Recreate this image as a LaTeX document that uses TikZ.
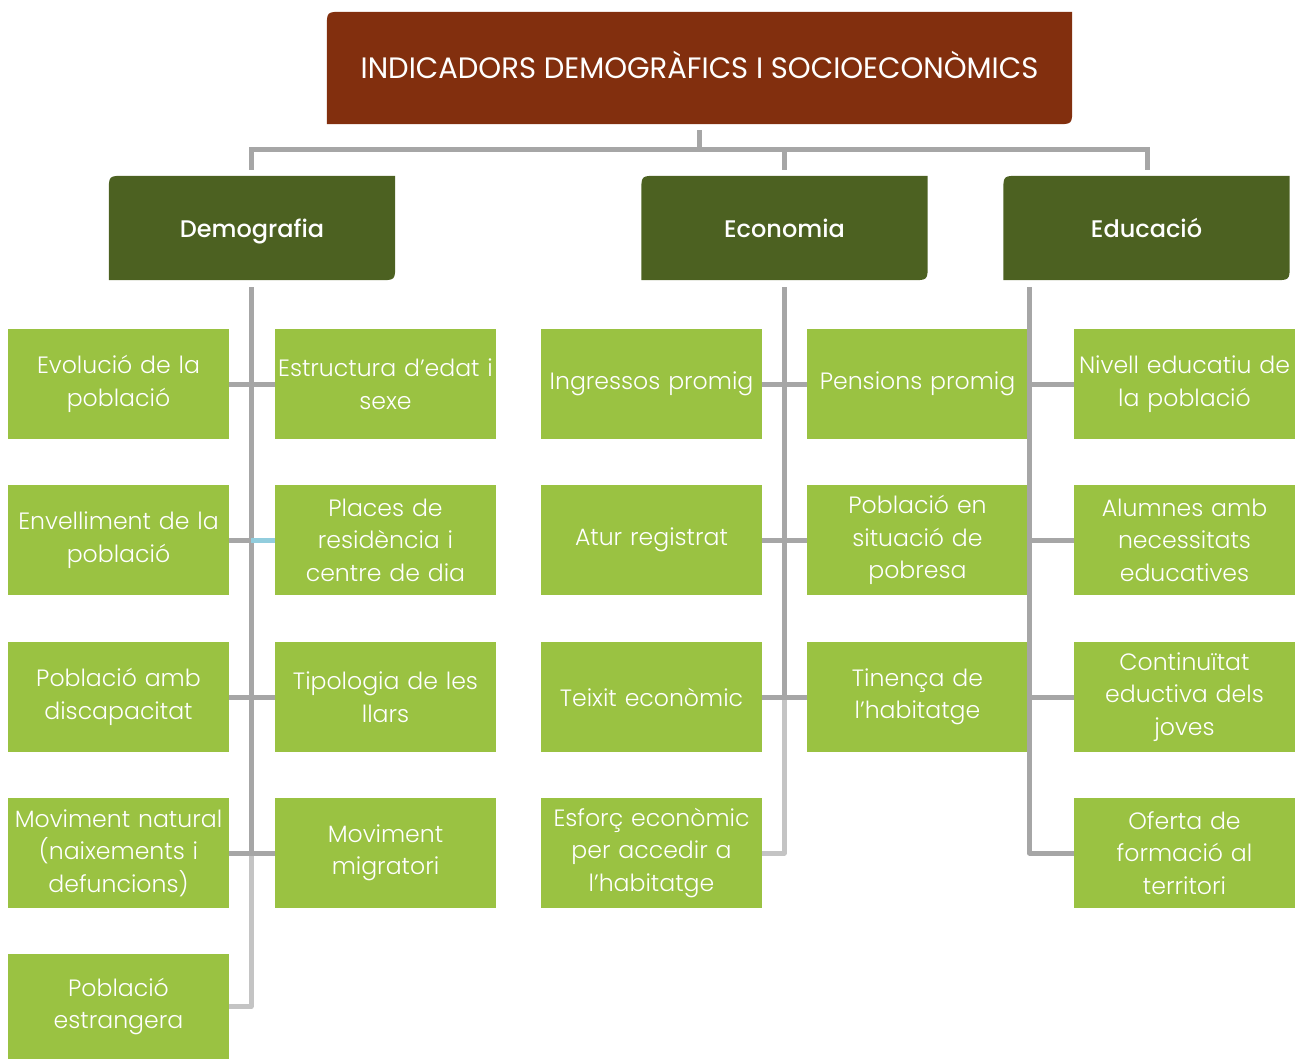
\documentclass[tikz,border=0pt]{standalone}
\usepackage{fontspec}
\setmainfont{Poppins}
\newfontfamily\poplight{Poppins Light}
\newfontfamily\popmed{Poppins Medium}
\usetikzlibrary{backgrounds,calc}
\definecolor{titlebg}{RGB}{130,47,14}
\definecolor{headbg}{RGB}{76,97,33}
\definecolor{leafbg}{RGB}{154,194,66}
\definecolor{conngray}{RGB}{166,166,166}
\definecolor{connlight}{RGB}{196,196,196}
\definecolor{connblue}{RGB}{146,205,221}
\tikzset{
  leaf/.style={fill=leafbg, text=white, minimum width=221pt, minimum height=110pt,
    inner sep=0pt, align=center, text width=221pt,
    font=\poplight\fontsize{23.6}{32.5}\selectfont},
  head/.style={text=white, minimum width=286pt, minimum height=104pt, inner sep=0pt,
    text height=20pt, text depth=2pt,
    font=\popmed\fontsize{24}{28}\selectfont},
  titlebox/.style={text=white, minimum width=745pt, minimum height=112pt, inner sep=0pt,
    text height=25pt, text depth=3pt,
    font=\fontsize{29.5}{32}\selectfont},
  conn/.style={draw=conngray, line width=5pt},
  connl/.style={draw=connlight, line width=5pt},
}
% box with rounded top-left and bottom-right corners
\newcommand{\leafshape}[3]{%
  \fill[#3] let \p1=(#1.south west), \p2=(#1.north east) in
    (\x1,\y1) -- (\x1,\y2-#2) .. controls (\x1,\y2) .. (\x1+#2,\y2)
    -- (\x2,\y2) -- (\x2,\y1+#2) .. controls (\x2,\y1) .. (\x2-#2,\y1) -- cycle;}
\begin{document}
\begin{tikzpicture}[x=1pt,y=-1pt]
\useasboundingbox (0,0) rectangle (1300,1059);
% title and headers
\node[titlebox] (T) at (699.5,68) {\scalebox{0.985}[1]{INDICADORS DEMOGRÀFICS I SOCIOECONÒMICS}};
\node[head] (Dem) at (252,228) {Demografia};
\node[head] (Eco) at (784.5,228) {Economia};
\node[head] (Edu) at (1146.5,228) {Educació};
\begin{scope}[on background layer]
  \leafshape{T}{16}{titlebg}
  \leafshape{Dem}{16}{headbg}
  \leafshape{Eco}{16}{headbg}
  \leafshape{Edu}{16}{headbg}
\end{scope}
% leaves: Demografia
\node[leaf] (D1) at (118.5,384) {Evolució de la\\població};
\node[leaf] (D2) at (385.5,384) {Estructura d’edat i\\sexe};
\node[leaf] (D3) at (118.5,540) {Envelliment de la\\població};
\node[leaf] (D4) at (385.5,540) {Places de\\residència i\\centre de dia};
\node[leaf] (D5) at (118.5,697) {Població amb\\discapacitat};
\node[leaf] (D6) at (385.5,697) {Tipologia de les\\llars};
\node[leaf] (D7) at (118.5,853) {Moviment natural\\(naixements i\\defuncions)};
\node[leaf] (D8) at (385.5,853) {Moviment\\migratori};
\node[leaf, minimum height=105pt] (D9) at (118.5,1006.5) {Població\\estrangera};
% leaves: Economia
\node[leaf] (E1) at (651.5,384) {Ingressos promig};
\node[leaf] (E2) at (917.5,384) {Pensions promig};
\node[leaf] (E3) at (651.5,540) {Atur registrat};
\node[leaf] (E4) at (917.5,540) {Població en\\situació de\\pobresa};
\node[leaf] (E5) at (651.5,697) {Teixit econòmic};
\node[leaf] (E6) at (917.5,697) {Tinença de\\l’habitatge};
\node[leaf] (E7) at (651.5,853) {Esforç econòmic\\per accedir a\\l’habitatge};
% leaves: Educació
\node[leaf] (U1) at (1184.5,384) {Nivell educatiu de\\la població};
\node[leaf] (U2) at (1184.5,540) {Alumnes amb\\necessitats\\educatives};
\node[leaf] (U3) at (1184.5,697) {Continuïtat\\eductiva dels\\joves};
\node[leaf] (U4) at (1184.5,853) {Oferta de\\formació al\\territori};
% top connectors
\draw[conn] ([yshift=-6pt]T.south) -- ([yshift=-26pt]T.south);
\draw[conn] ([xshift=-1pt,yshift=6pt]Dem.north) -- ([xshift=-1pt,yshift=26pt]Dem.north)
  -- ([xshift=0.5pt,yshift=26pt]Edu.north) -- ([xshift=0.5pt,yshift=6pt]Edu.north);
\draw[conn] ([yshift=6pt]Eco.north) -- ([yshift=26pt]Eco.north);
% Demografia branch
\coordinate (Dv) at ([xshift=-1pt,yshift=-7pt]Dem.south);
\draw[connl, line join=round] (Dv |- D7.east) -- (Dv |- D9.east) -- (D9.east);
\draw[conn] (Dv) -- (Dv |- D7.east);
\draw[conn] (D1.east) -- (D2.west);
\draw[conn] (D3.east) -- (Dv |- D3.east);
\draw[draw=connblue, line width=5pt] (Dv |- D4.west) -- (D4.west);
\draw[conn] (D5.east) -- (D6.west);
\draw[conn] (D7.east) -- (D8.west);
% Economia branch
\coordinate (Ev) at ([xshift=-0.5pt,yshift=-7pt]Eco.south);
\draw[connl, line join=round] (Ev |- E5.east) -- (Ev |- E7.east) -- (E7.east);
\draw[conn] (Ev) -- (Ev |- E5.east);
\draw[conn] (E1.east) -- (E2.west);
\draw[conn] (E3.east) -- (E4.west);
\draw[conn] (E5.east) -- (E6.west);
% Educació branch
\coordinate (Uv) at ([xshift=26pt,yshift=-7pt]Edu.south west);
\draw[conn, line join=round] (Uv) -- (Uv |- U4.west) -- (U4.west);
\draw[conn] (Uv |- U1.west) -- (U1.west);
\draw[conn] (Uv |- U2.west) -- (U2.west);
\draw[conn] (Uv |- U3.west) -- (U3.west);
\end{tikzpicture}
\end{document}
